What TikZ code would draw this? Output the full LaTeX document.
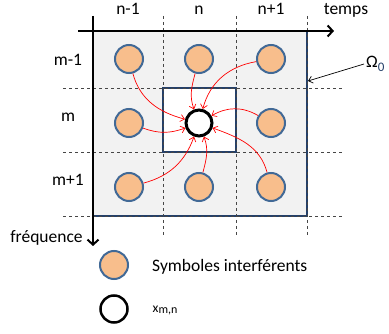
\documentclass[tikz,border=0pt]{standalone}
\usepackage{fontspec}
\setmainfont{Carlito}
\usetikzlibrary{arrows.meta}
\definecolor{peach}{RGB}{248,190,140}
\definecolor{ringblue}{RGB}{65,105,150}
\definecolor{navy}{RGB}{37,64,105}
\definecolor{bggrey}{RGB}{242,242,242}
\definecolor{dashgrey}{RGB}{70,70,70}
\begin{document}
\begin{tikzpicture}[x=1pt,y=1pt,
  sym/.style={circle,draw=ringblue,fill=peach,line width=2pt,minimum size=28pt,inner sep=0pt},
  target/.style={circle,draw=black,fill=white,line width=3pt,minimum size=26pt,inner sep=0pt},
  lbl/.style={font=\fontsize{17.5}{20}\selectfont,inner sep=0pt,anchor=base},
  grid/.style={dashgrey,line width=0.8pt,dash pattern=on 3pt off 3pt},
  axis/.style={black,line width=2pt,-{Straight Barb[length=5pt,width=11pt,line width=2pt]}},
  inter/.style={red,line width=0.7pt,-{Straight Barb[length=4pt,width=7pt]}}]
\useasboundingbox (0,0) rectangle (389,-334);
% background area
\fill[bggrey] (93,-31) rectangle (307,-216);
\draw[navy,line width=2pt] (307,-31) -- (307,-216) -- (93,-216);
\draw[navy,line width=2pt,fill=white] (163,-88) rectangle (236,-152);
% grid
\foreach \x in {163,236,307} \draw[grid] (\x,-16) -- (\x,-236);
\foreach \y in {88,152,216} \draw[grid] (63,-\y) -- (342,-\y);
% axes
\coordinate (tx0) at (78,-31);
\coordinate (tx1) at (334,-31);
\coordinate (fy0) at (93,-16);
\coordinate (fy1) at (93,-246);
\draw[axis] (tx0) -- (tx1);
\draw[axis] (fy0) -- (fy1);
% labels
\node[lbl] (ln1) at (128,-15) {n-1};
\node[lbl] (ln) at (199,-15) {n};
\node[lbl] (ln2) at (271,-15) {n+1};
\node[lbl] (lt) at (346,-15) {temps};
\node[lbl] (lm1) at (68,-66) {m-1};
\node[lbl] (lm) at (68,-122) {m};
\node[lbl] (lm2) at (68,-186) {m+1};
\node[lbl] (lf) at (46.5,-243) {fréquence};
% symbols
\node[sym] (c11) at (129,-59) {};
\node[sym] (c12) at (199,-59) {};
\node[sym] (c13) at (271,-59) {};
\node[sym] (c21) at (129,-123) {};
\node[target] (cc) at (199,-123) {};
\node[sym] (c23) at (271,-123) {};
\node[sym] (c31) at (129,-187) {};
\node[sym] (c32) at (199,-187) {};
\node[sym] (c33) at (271,-187) {};
% interference arrows
\draw[inter] (c11) to[out=-75,in=165] (cc);
\draw[inter] (c12) to[out=-105,in=110] (cc);
\draw[inter] (c13) to[out=190,in=75] (cc);
\draw[inter] (c23) to[out=150,in=30] (cc);
\draw[inter] (c21) to[out=-20,in=200] (cc);
\draw[inter] (c31) to[out=15,in=250] (cc);
\draw[inter] (c32) to[out=75,in=290] (cc);
\draw[inter] (c33) to[out=105,in=-20] (cc);
% Omega
\node[lbl,anchor=base west] (om) at (366,-68) {Ω\raisebox{-4pt}{\fontsize{13}{14}\selectfont\color{navy}0}};
\coordinate (omt) at (308,-81);
\draw[black,line width=0.7pt,-{Straight Barb[length=4pt,width=7pt]}] (364,-64) -- (omt);
% legend
\node[sym] (leg1) at (114,-265) {};
\node[target,line width=2.5pt,minimum size=27pt] (leg2) at (114,-309) {};
\node[lbl,anchor=base west] (t1) at (152,-272) {Symboles interférents};
\node[lbl,anchor=base west,font=\fontsize{13.5}{15}\selectfont] (t2) at (152.5,-313) {x\raisebox{-1pt}{\fontsize{12}{13}\selectfont m,n}};
\end{tikzpicture}
\end{document}
